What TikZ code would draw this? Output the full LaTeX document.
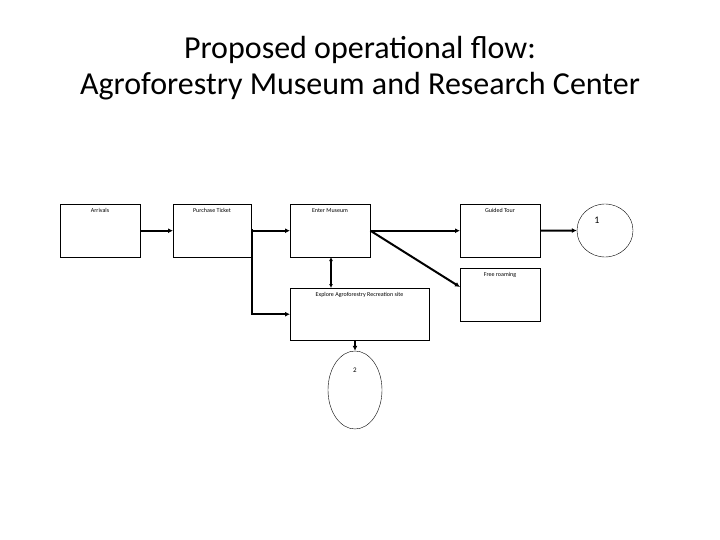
\documentclass[tikz,border=0pt]{standalone}
\usepackage{fontspec}
\setmainfont{Carlito}
\usetikzlibrary{arrows.meta,shapes.geometric}
\begin{document}
\begin{tikzpicture}[x=1pt,y=-1pt,
  box/.style={draw,thin,minimum width=80pt,minimum height=53pt,anchor=north west,inner sep=0pt},
  lbl/.style={font=\fontsize{6}{7}\selectfont,anchor=north,inner sep=0pt},
  conn/.style={line width=2pt,-{Latex[length=5pt,width=5pt]}},
  circ/.style={draw,thin,ellipse,inner sep=0pt}]
\useasboundingbox (0,0) rectangle (720,540);
\node[font=\fontsize{32}{36}\selectfont,align=center] (title) at (360,68) {Proposed operational flow:\\Agroforestry Museum and Research Center};
\node[box] (arr) at (60,204) {};
\node[lbl] (arrl) at (100,208) {Arrivals};
\node[box,minimum width=78pt] (pur) at (173,204) {};
\node[lbl] (purl) at (212,208) {Purchase Ticket};
\node[box] (ent) at (290,204) {};
\node[lbl] (entl) at (330,208) {Enter Museum};
\node[box] (gui) at (460,204) {};
\node[lbl] (guil) at (500,208) {Guided Tour};
\node[box] (fre) at (460,268) {};
\node[lbl] (frel) at (500,272) {Free roaming};
\node[box,minimum width=139pt,minimum height=52pt] (exp) at (290,288) {};
\node[lbl] (expl) at (359.5,292) {Explore Agroforestry Recreation site};
\node[circ,minimum width=56pt,minimum height=53pt] (c1) at (605,230.5) {};
\node[font=\fontsize{10}{12}\selectfont] (c1l) at (597,220) {1};
\node[circ,minimum width=54pt,minimum height=78pt] (c2) at (355,390) {};
\node[font=\fontsize{7}{8}\selectfont] (c2l) at (355,370) {2};
\coordinate (br) at (252,229);
\draw[conn] (arr.east) -- (pur.west);
\draw[conn] (pur.east) -- (ent.west);
\draw[conn] (br) |- (exp.west);
\draw[conn] (ent.east) -- (gui.west);
\draw[conn] (gui.east) -- (c1.west);
\draw[conn] (ent.east) -- (460,287);
\draw[line width=1.4pt,{Latex[length=4pt,width=4pt]}-{Latex[length=4pt,width=4pt]}] (331,257) -- (331,288);
\draw[conn] (355,340) -- (c2.north);
\end{tikzpicture}
\end{document}
